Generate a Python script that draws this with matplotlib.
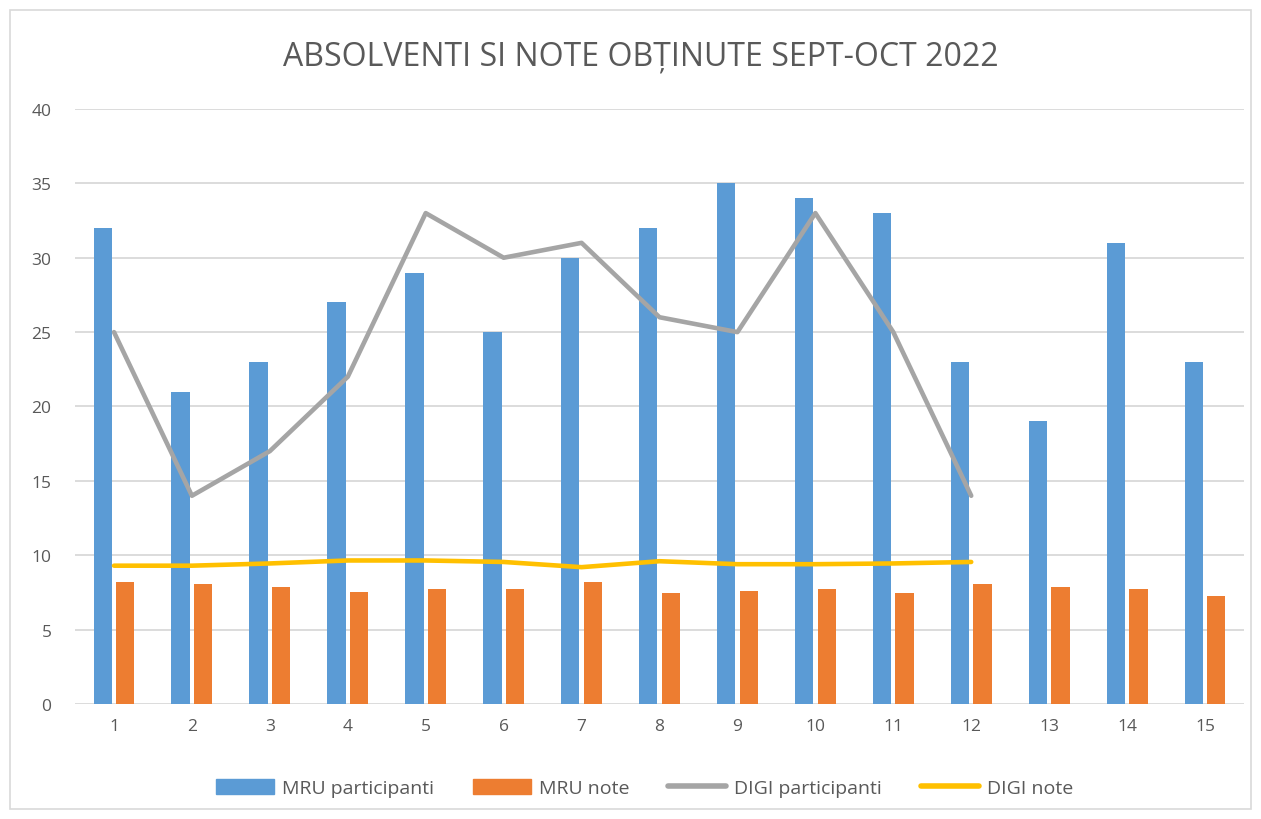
import matplotlib.pyplot as plt
import numpy as np
from matplotlib.patches import Rectangle
from matplotlib.lines import Line2D

categories = [str(i) for i in range(1, 16)]
mru_participanti = [32, 21, 23, 27, 29, 25, 30, 32, 35, 34, 33, 23, 19, 31, 23]
mru_note = [8.2, 8.1, 7.9, 7.5, 7.7, 7.7, 8.2, 7.45, 7.6, 7.7, 7.45, 8.1, 7.85, 7.7, 7.25]
digi_participanti = [25, 14, 17, 22, 33, 30, 31, 26, 25, 33, 25, 14]
digi_note = [9.3, 9.3, 9.45, 9.65, 9.65, 9.55, 9.2, 9.6, 9.4, 9.4, 9.45, 9.55]

BLUE = "#5b9bd5"
ORANGE = "#ed7d31"
GRAY = "#a5a5a5"
YELLOW = "#ffc000"
TXT = "#595959"

plt.rcParams['font.family'] = ['Open Sans', 'DejaVu Sans']

fig = plt.figure(figsize=(12.61, 8.2), dpi=100)
ax = fig.add_axes([0.0595, 0.1402, 0.927, 0.7257])

x = np.arange(len(categories))
w = 0.235
ax.bar(x - 0.145, mru_participanti, w, color=BLUE, zorder=2, label="MRU participanti")
ax.bar(x + 0.145, mru_note, w, color=ORANGE, zorder=2, label="MRU note")
ax.plot(x[:len(digi_participanti)], digi_participanti, color=GRAY, lw=3.3,
        solid_capstyle="round", solid_joinstyle="round", zorder=3)
ax.plot(x[:len(digi_note)], digi_note, color=YELLOW, lw=3.3,
        solid_capstyle="round", solid_joinstyle="round", zorder=3)

ax.set_xlim(-0.5, len(categories) - 0.5)
ax.set_ylim(0, 40)
ax.set_yticks(range(0, 41, 5))
ax.set_xticks(x)
ax.set_xticklabels(categories)
ax.yaxis.grid(True, color="#d9d9d9", lw=1.3, zorder=0)
ax.set_axisbelow(True)
for s in ax.spines.values():
    s.set_visible(False)
ax.tick_params(length=0, colors=TXT, labelsize=12.5, pad=10)
ax.tick_params(axis="y", pad=17)

fig.text(0.508, 0.931, "ABSOLVENTI SI NOTE OBȚINUTE SEPT-OCT 2022", ha="center", va="center",
         fontsize=23, color=TXT)

handles = [Rectangle((0, 0), 1, 1, color=BLUE),
           Rectangle((0, 0), 1, 1, color=ORANGE),
           Line2D([0], [0], color=GRAY, lw=4, solid_capstyle="round"),
           Line2D([0], [0], color=YELLOW, lw=4, solid_capstyle="round")]
labels = ["MRU participanti", "MRU note", "DIGI participanti", "DIGI note"]
fig.legend(handles, labels, loc="center", bbox_to_anchor=(0.511, 0.038), ncol=4,
           frameon=False, fontsize=14, labelcolor=TXT, handlelength=3.0,
           handleheight=0.8, columnspacing=2.0, handletextpad=0.4)

fig.patches.append(Rectangle((0.008, 0.012), 0.984, 0.975, transform=fig.transFigure,
                             fill=False, edgecolor="#d9d9d9", lw=1.2))

fig.savefig("out.png", dpi=100)
